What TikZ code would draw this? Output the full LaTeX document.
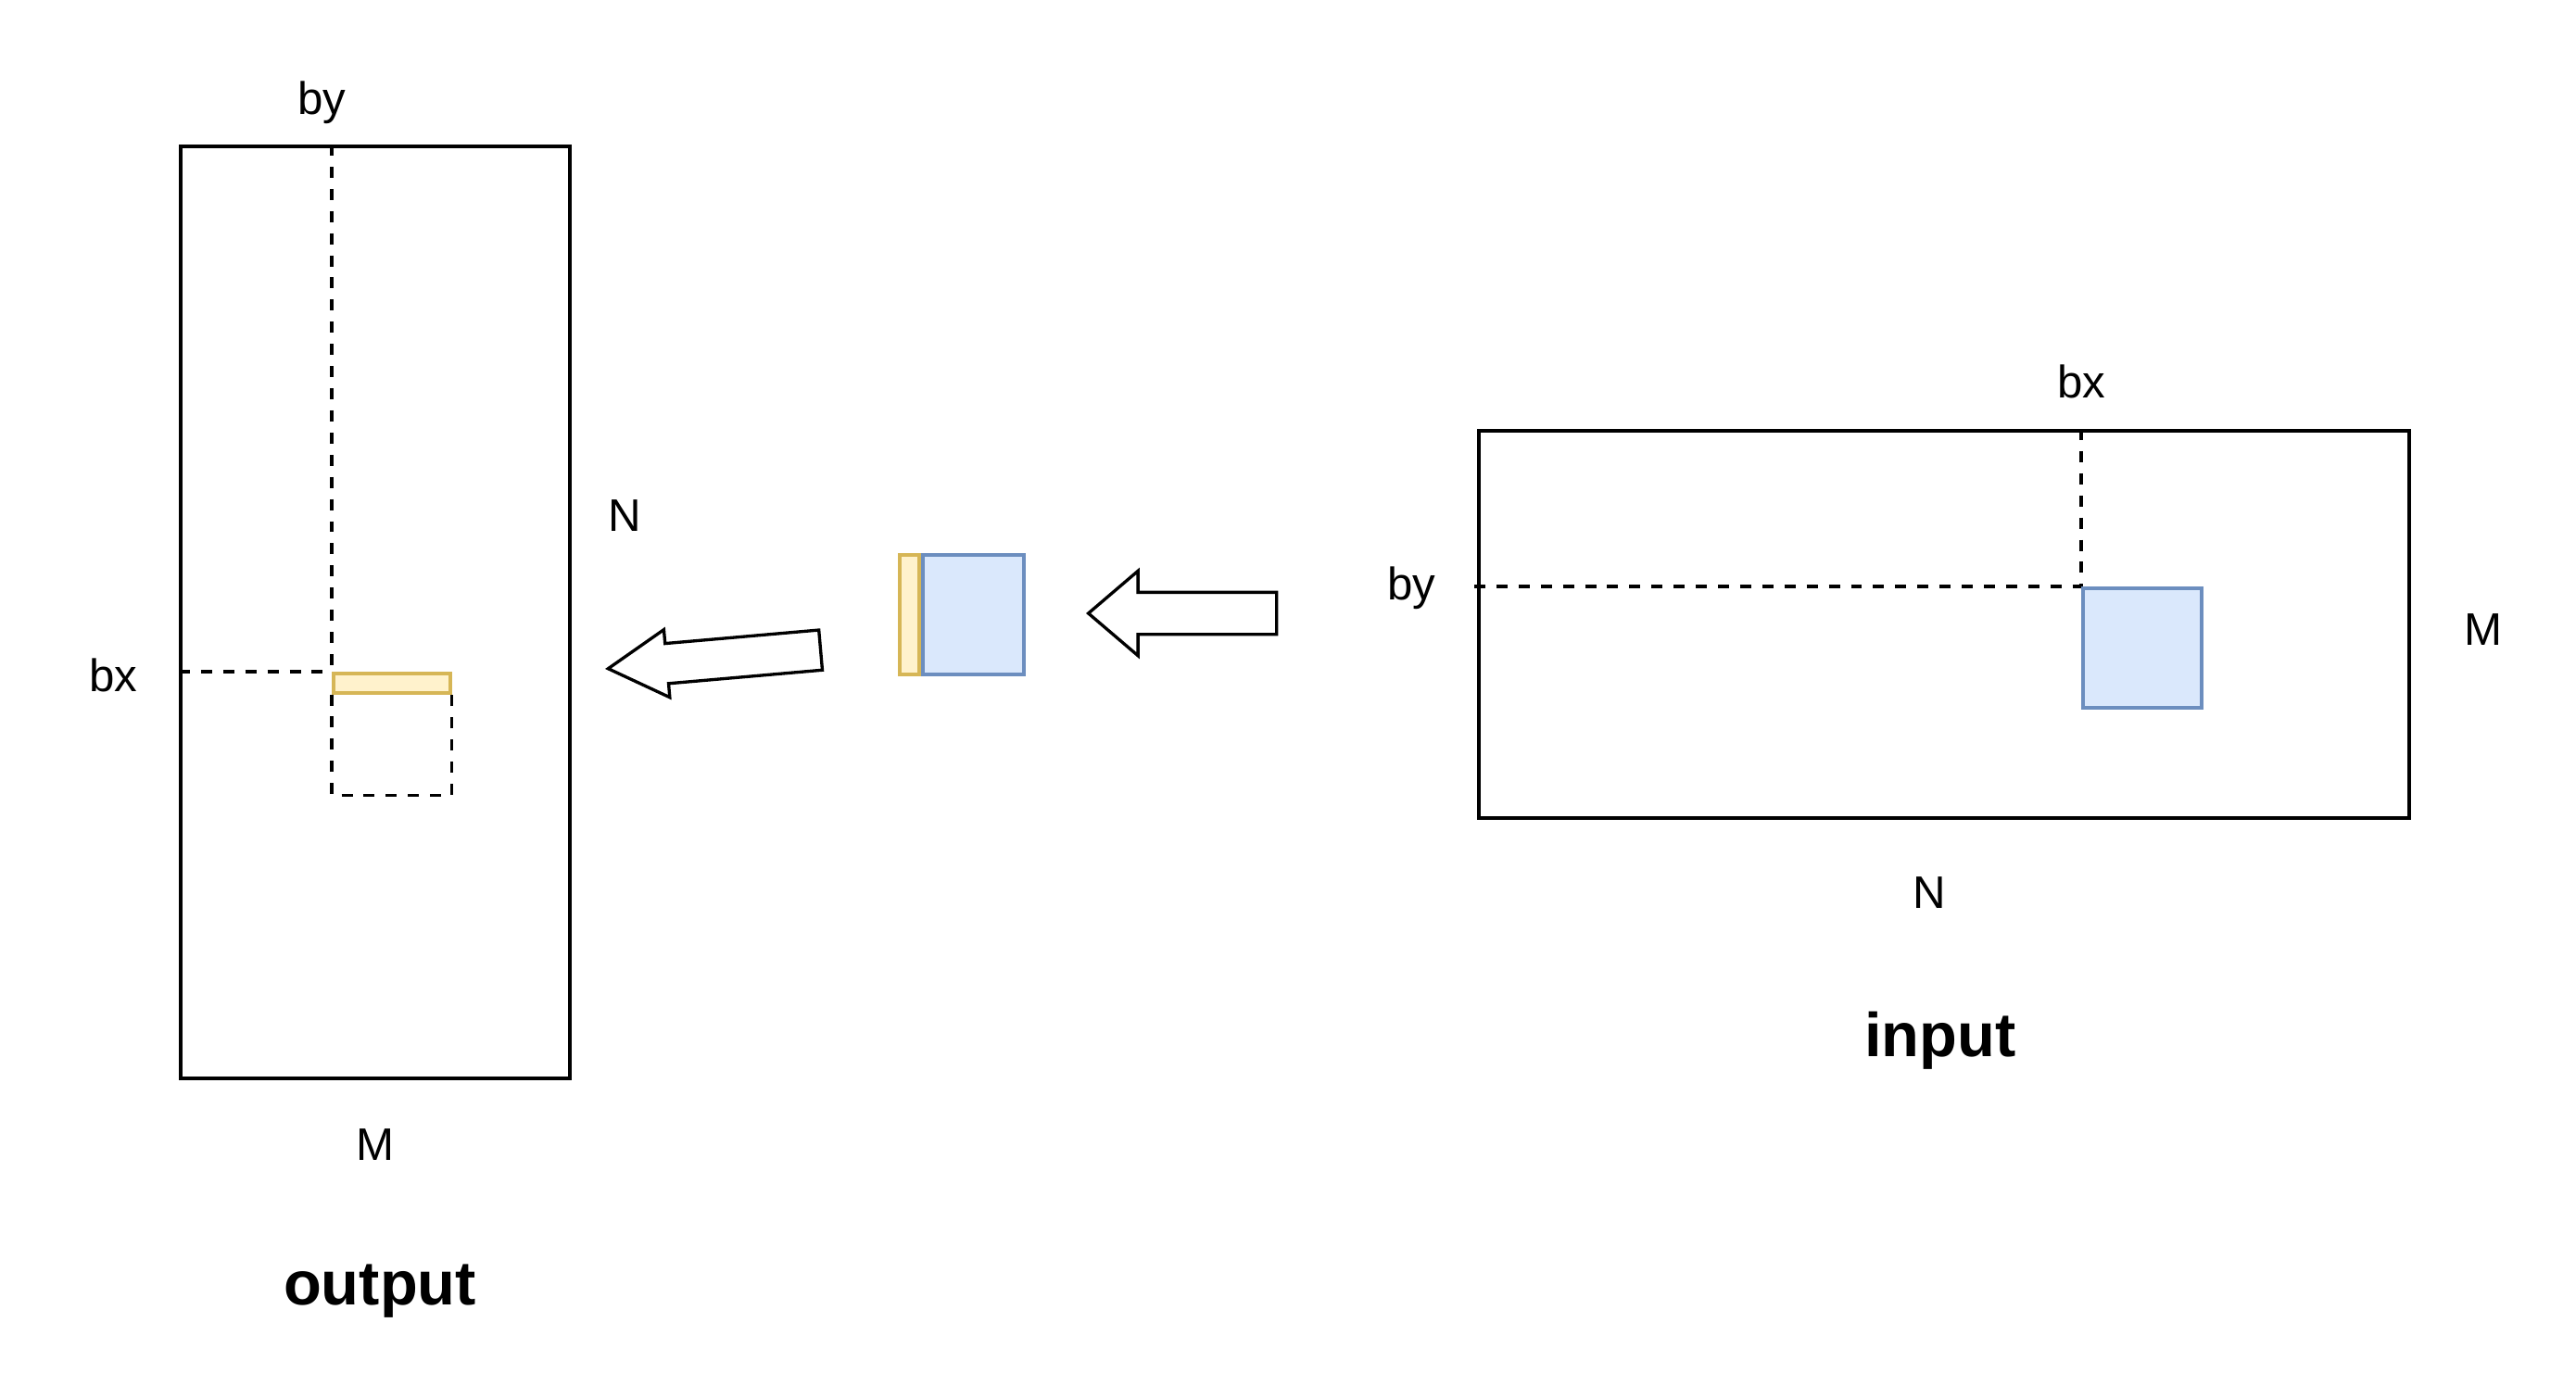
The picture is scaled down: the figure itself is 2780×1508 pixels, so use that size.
\documentclass[tikz,border=0pt]{standalone}
\usepackage{fontspec}
\setmainfont{Liberation Sans}
\usetikzlibrary{shapes.arrows}

\definecolor{tileblue}{HTML}{DAE8FC}
\definecolor{tilebluedraw}{HTML}{6C8EBF}
\definecolor{tileyellow}{HTML}{FFF2CC}
\definecolor{tileyellowdraw}{HTML}{D6B656}

\begin{document}
\begin{tikzpicture}[
    x=0.01cm, y=-0.01cm,
    grid/.style={draw, line width=1.15pt, inner sep=0pt, anchor=north west},
    guide/.style={line width=0.9pt, dash pattern=on 3.4pt off 3.4pt},
    bluetile/.style={draw=tilebluedraw, fill=tileblue, line width=1pt, inner sep=0pt},
    yellowtile/.style={draw=tileyellowdraw, fill=tileyellow, line width=1pt, inner sep=0pt},
    dim/.style={font=\fontsize{14}{16}\selectfont, anchor=base},
    title/.style={font=\fontsize{19}{22}\selectfont\bfseries, anchor=base},
    flow/.style={single arrow, draw, fill=white, line width=0.95pt, inner xsep=0pt,
        single arrow head indent=0pt, anchor=tip}
]
\useasboundingbox (0,0) rectangle (2780,1508);

% output matrix
\node[grid, minimum width=4.2cm, minimum height=10.05cm] (out) at (193,156) {};
\coordinate (outcorner) at (358,725);
\draw[guide] (out.north -| outcorner) -- (outcorner);
\draw[guide] (out.west |- outcorner) -- (outcorner);
\node[yellowtile, anchor=north west, minimum width=1.26cm, minimum height=0.21cm] (outrow) at (outcorner) {};
\draw[guide] (outrow.south west) -- ++(0,109) -| (outrow.south east);
\node[dim] (outby) at (347,123) {by};
\node[dim] (outbx) at (122,746) {bx};
\node[dim] (outN) at (674,573) {N};
\node[dim] (outM) at (405,1252) {M};
\node[title] (outtitle) at (410,1408) {output};

% tile in between
\node[bluetile, anchor=north west, minimum width=1.09cm, minimum height=1.29cm] (block) at (994,597) {};
\node[yellowtile, anchor=north east, minimum width=0.21cm, minimum height=1.29cm] (stripe) at (block.north west) {};

% arrows
\node[flow, rotate=185, minimum height=2.3cm, minimum width=0.7cm, inner ysep=0.2cm,
    single arrow head extend=0.15cm, single arrow tip angle=60] (store) at (653,722) {};
\node[flow, shape border rotate=180, minimum height=2.03cm, minimum width=0.88cm, inner ysep=0.21cm,
    single arrow head extend=0.23cm, single arrow tip angle=81] (load) at (1172,662) {};

% input matrix
\node[grid, minimum width=10.03cm, minimum height=4.18cm] (in) at (1594,463) {};
\coordinate (incorner) at (2246,633);
\draw[guide] (in.north -| incorner) -- (incorner);
\draw[guide] ([xshift=-0.03cm]in.west |- incorner) -- (incorner);
\node[bluetile, anchor=north west, minimum width=1.28cm, minimum height=1.29cm] (inblock) at (incorner) {};
\node[dim] (inbx) at (2246,429) {bx};
\node[dim] (inby) at (1523,647) {by};
\node[dim] (inM) at (2680,696) {M};
\node[dim] (inN) at (2082,980) {N};
\node[title] (intitle) at (2094,1140) {input};

\end{tikzpicture}
\end{document}
